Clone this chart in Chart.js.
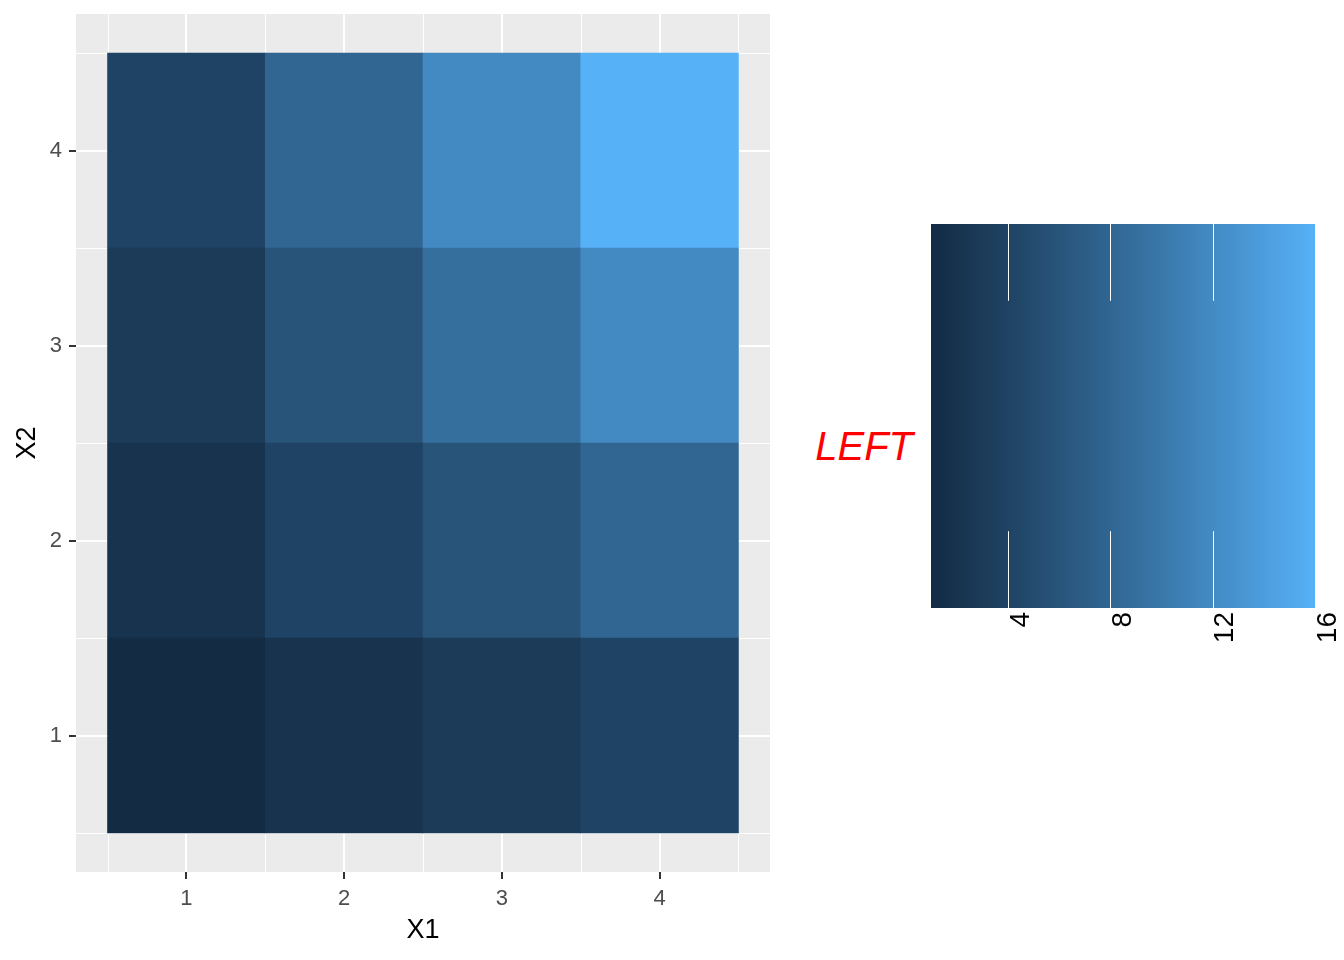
<!DOCTYPE html>
<html>
<head>
<meta charset="utf-8">
<script src="https://cdn.jsdelivr.net/npm/chart.js@4.4.1/dist/chart.umd.min.js"></script>
<style>
  html, body { margin: 0; padding: 0; background: #ffffff; }
  body { width: 1344px; height: 960px; position: relative; overflow: hidden; font-family: 'Liberation Sans', Arial, sans-serif; }
  #heatWrap { position: absolute; left: 0; top: 0; width: 800px; height: 960px; }
  #barWrap { position: absolute; left: 920px; top: 0; width: 424px; height: 960px; }
  #legendTitle { position: absolute; right: 431px; top: 426px; font-size: 40px; line-height: 40px; font-style: italic; color: #FF0000; white-space: nowrap; }
</style>
</head>
<body>
<div id="heatWrap"><canvas id="heat" width="800" height="960"></canvas></div>
<div id="legendTitle">LEFT</div>
<div id="barWrap"><canvas id="bar" width="424" height="960"></canvas></div>
<script>
// data
const x1Values = [1, 2, 3, 4];
const x2Values = [1, 2, 3, 4];
// fill value for each row (X2 = 1..4), columns are X1 = 1..4
const fillRow1 = [1, 2, 3, 4];
const fillRow2 = [2, 4, 6, 8];
const fillRow3 = [3, 6, 9, 12];
const fillRow4 = [4, 8, 12, 16];
const fillRows = [fillRow1, fillRow2, fillRow3, fillRow4];
const fillLimits = [1, 16];
const legendTicks = [4, 8, 12, 16];
const lowColor = '#132B43';
const highColor = '#56B1F7';

const FONT = "'Liberation Sans', Arial, sans-serif";
Chart.defaults.font.family = FONT;

// colour scale: interpolate low -> high in Lab space (like ggplot's gradient)
function toLab(hex) {
    const c = [1, 3, 5].map(i => parseInt(hex.substr(i, 2), 16) / 255)
        .map(v => v <= 0.04045 ? v / 12.92 : Math.pow((v + 0.055) / 1.055, 2.4));
    const X = (0.4124564 * c[0] + 0.3575761 * c[1] + 0.1804375 * c[2]) / 0.95047;
    const Y = (0.2126729 * c[0] + 0.7151522 * c[1] + 0.0721750 * c[2]);
    const Z = (0.0193339 * c[0] + 0.1191920 * c[1] + 0.9503041 * c[2]) / 1.08883;
    const f = t => t > 0.008856 ? Math.cbrt(t) : 7.787 * t + 16 / 116;
    return [116 * f(Y) - 16, 500 * (f(X) - f(Y)), 200 * (f(Y) - f(Z))];
}
function fromLab(lab) {
    const fy = (lab[0] + 16) / 116, fx = fy + lab[1] / 500, fz = fy - lab[2] / 200;
    const inv = t => t * t * t > 0.008856 ? t * t * t : (t - 16 / 116) / 7.787;
    const X = inv(fx) * 0.95047, Y = inv(fy), Z = inv(fz) * 1.08883;
    const rgb = [
        3.2404542 * X - 1.5371385 * Y - 0.4985314 * Z,
        -0.9692660 * X + 1.8760108 * Y + 0.0415560 * Z,
        0.0556434 * X - 0.2040259 * Y + 1.0572252 * Z
    ].map(v => v <= 0.0031308 ? 12.92 * v : 1.055 * Math.pow(v, 1 / 2.4) - 0.055)
     .map(v => Math.round(Math.min(1, Math.max(0, v)) * 255));
    return 'rgb(' + rgb.join(',') + ')';
}
const labLow = toLab(lowColor), labHigh = toLab(highColor);
function fillColor(v) {
    const t = (v - fillLimits[0]) / (fillLimits[1] - fillLimits[0]);
    return fromLab(labLow.map((l, i) => l + (labHigh[i] - l) * t));
}

// panel background + minor grid lines
const panelPlugin = {
    id: 'panel',
    beforeDraw(chart) {
        const a = chart.chartArea, ctx = chart.ctx;
        ctx.save();
        ctx.fillStyle = '#EBEBEB';
        ctx.fillRect(a.left, a.top, a.right - a.left, a.bottom - a.top);
        ctx.restore();
    },
    beforeDatasetsDraw(chart) {
        const a = chart.chartArea, ctx = chart.ctx;
        const xs = chart.scales.x, ys = chart.scales.y;
        ctx.save();
        ctx.strokeStyle = '#FFFFFF';
        ctx.lineWidth = 1;
        ctx.beginPath();
        [0.5, 1.5, 2.5, 3.5, 4.5].forEach(v => {
            const px = Math.round(xs.getPixelForValue(v)) + 0.5;
            ctx.moveTo(px, a.top); ctx.lineTo(px, a.bottom);
            const py = Math.round(ys.getPixelForValue(v)) + 0.5;
            ctx.moveTo(a.left, py); ctx.lineTo(a.right, py);
        });
        ctx.stroke();
        ctx.restore();
    }
};

const heatDatasets = x2Values.map((x2, r) => ({
    label: 'X2 = ' + x2,
    data: x1Values.map(x1 => ({ x: x1, y: [x2 - 0.5, x2 + 0.5] })),
    backgroundColor: fillRows[r].map(v => fillColor(v)),
    borderWidth: 0,
    barPercentage: 1,
    categoryPercentage: 1,
    grouped: false
}));

function axisOpts(values, titleText, isX) {
    return {
        type: 'linear',
        min: 0.3,
        max: 4.7,
        offset: false,
        afterBuildTicks: s => { s.ticks = values.map(v => ({ value: v })); },
        ticks: { color: '#4D4D4D', font: { size: 22 }, padding: 7, autoSkip: false, maxRotation: 0 },
        grid: { offset: false, color: '#FFFFFF', lineWidth: 2, tickColor: '#333333', tickLength: 7, tickWidth: 2 },
        border: { display: false },
        title: {
            display: true, text: titleText, color: '#000000', font: { size: 27 },
            padding: isX ? { top: 0, bottom: 13 } : { top: 11, bottom: 0 }
        },
        afterFit: s => {
            if (isX) s.height = 88; else s.width = 76;
            s.paddingLeft = 0; s.paddingRight = 0; s.paddingTop = 0; s.paddingBottom = 0;
        }
    };
}

new Chart(document.getElementById('heat'), {
    type: 'bar',
    data: { datasets: heatDatasets },
    options: {
        responsive: false,
        animation: false,
        devicePixelRatio: 1,
        layout: { padding: { left: 0, top: 14, right: 30, bottom: 0 } },
        scales: {
            x: axisOpts(x1Values, 'X1', true),
            y: axisOpts(x2Values, 'X2', false)
        },
        plugins: { legend: { display: false }, tooltip: { enabled: false } }
    },
    plugins: [panelPlugin]
});

// colour bar
const colorbarPlugin = {
    id: 'colorbar',
    beforeDatasetsDraw(chart) {
        const a = chart.chartArea, ctx = chart.ctx, xs = chart.scales.x;
        const grad = ctx.createLinearGradient(a.left, 0, a.right, 0);
        for (let v = fillLimits[0]; v <= fillLimits[1]; v += 0.25) {
            grad.addColorStop((xs.getPixelForValue(v) - a.left) / (a.right - a.left), fillColor(v));
        }
        ctx.save();
        ctx.fillStyle = grad;
        ctx.fillRect(a.left, a.top, a.right - a.left, a.bottom - a.top);
        const h = (a.bottom - a.top) / 5;
        ctx.strokeStyle = '#FFFFFF';
        ctx.lineWidth = 1;
        ctx.beginPath();
        legendTicks.forEach(v => {
            if (v >= fillLimits[1]) return;
            const px = Math.round(xs.getPixelForValue(v)) + 0.5;
            ctx.moveTo(px, a.top); ctx.lineTo(px, a.top + h);
            ctx.moveTo(px, a.bottom - h); ctx.lineTo(px, a.bottom);
        });
        ctx.stroke();
        ctx.restore();
    }
};

new Chart(document.getElementById('bar'), {
    type: 'scatter',
    data: { datasets: [] },
    options: {
        responsive: false,
        animation: false,
        devicePixelRatio: 1,
        layout: { padding: { left: 11, top: 224, right: 29, bottom: 0 } },
        scales: {
            x: {
                type: 'linear',
                min: fillLimits[0],
                max: fillLimits[1],
                afterBuildTicks: s => { s.ticks = legendTicks.map(v => ({ value: v })); },
                ticks: { color: '#000000', font: { size: 28 }, minRotation: 90, maxRotation: 90, autoSkip: false, padding: -4, labelOffset: 13 },
                grid: { display: false },
                border: { display: false },
                afterFit: s => { s.height = 352; s.paddingLeft = 0; s.paddingRight = 0; }
            },
            y: { display: false, min: 0, max: 1 }
        },
        plugins: { legend: { display: false }, tooltip: { enabled: false } }
    },
    plugins: [colorbarPlugin]
});
</script>
</body>
</html>
